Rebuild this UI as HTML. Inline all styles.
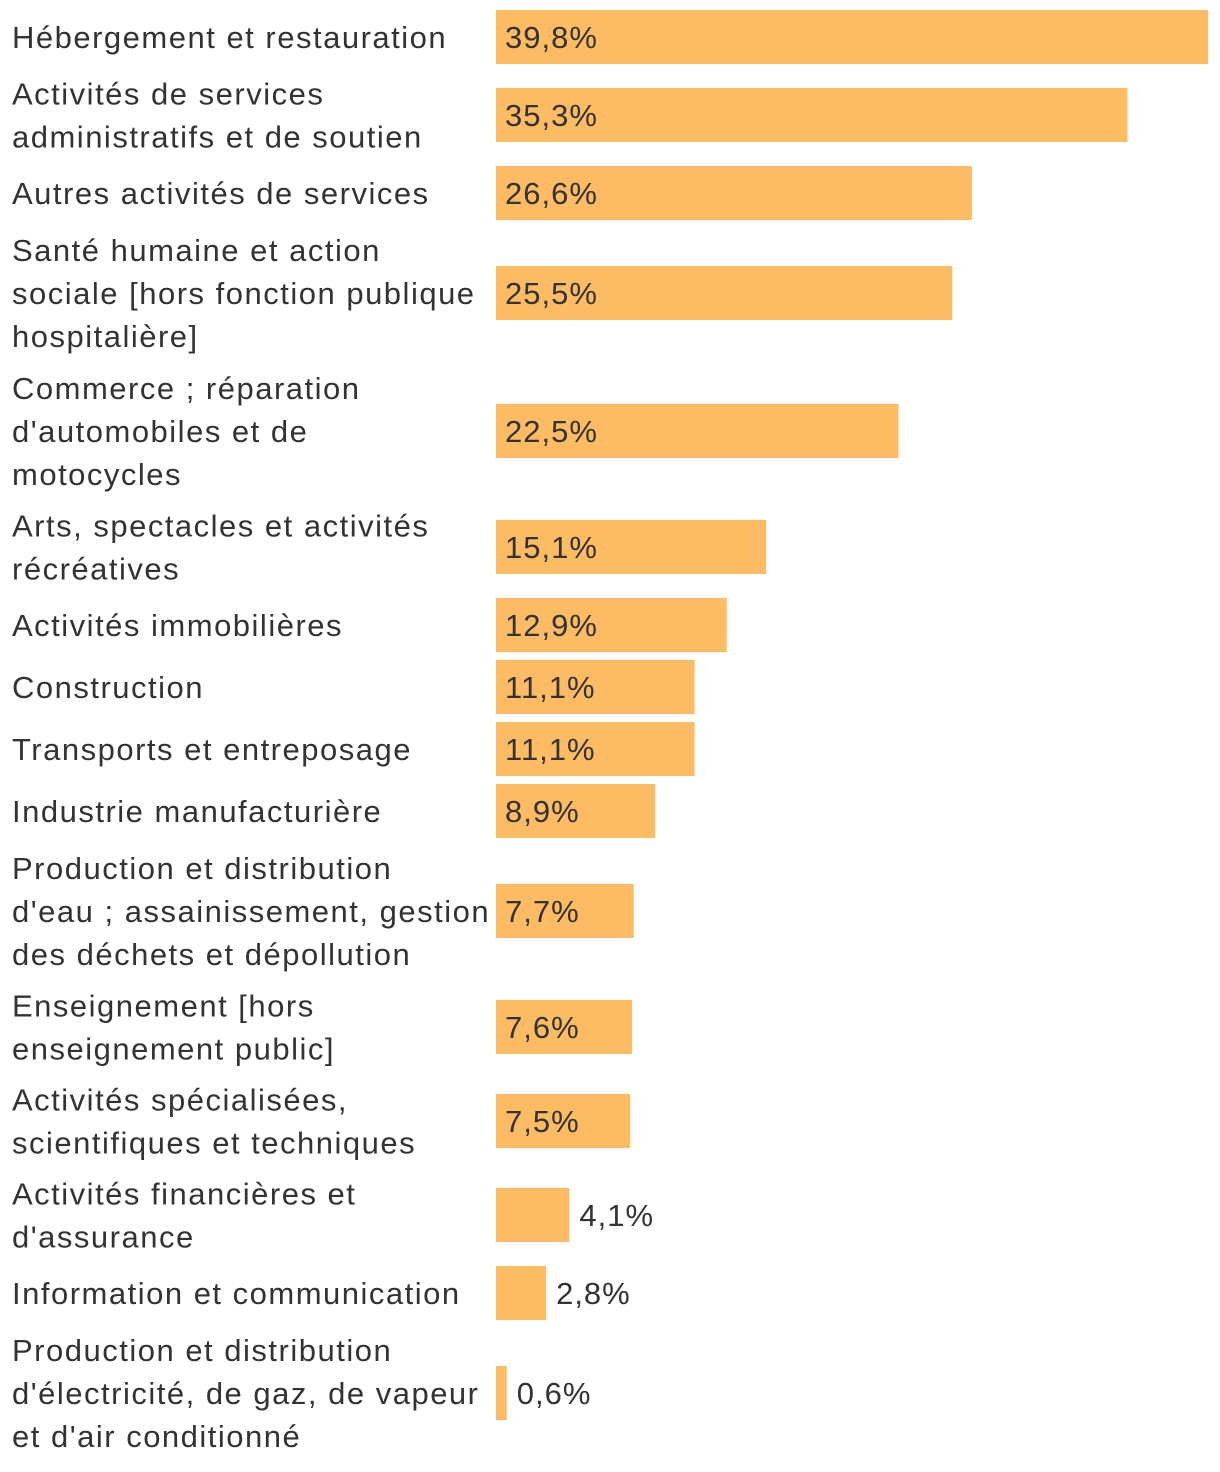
<!DOCTYPE html>
<html><head><meta charset="utf-8"><style>
html,body{margin:0;padding:0;background:#fff;width:1220px;height:1472px;overflow:hidden}
svg text{font-family:"Liberation Sans",sans-serif;fill:#333}
</style></head><body>
<svg id="chart" width="1220" height="1472" xmlns="http://www.w3.org/2000/svg"></svg>
<script>
const categories = [
 ["Hébergement et restauration"],
 ["Activités de services","administratifs et de soutien"],
 ["Autres activités de services"],
 ["Santé humaine et action","sociale [hors fonction publique","hospitalière]"],
 ["Commerce ; réparation","d'automobiles et de","motocycles"],
 ["Arts, spectacles et activités","récréatives"],
 ["Activités immobilières"],
 ["Construction"],
 ["Transports et entreposage"],
 ["Industrie manufacturière"],
 ["Production et distribution","d'eau ; assainissement, gestion","des déchets et dépollution"],
 ["Enseignement [hors","enseignement public]"],
 ["Activités spécialisées,","scientifiques et techniques"],
 ["Activités financières et","d'assurance"],
 ["Information et communication"],
 ["Production et distribution","d'électricité, de gaz, de vapeur","et d'air conditionné"]
];
const values = [39.8,35.3,26.6,25.5,22.5,15.1,12.9,11.1,11.1,8.9,7.7,7.6,7.5,4.1,2.8,0.6];
const valueLabels = ["39,8%","35,3%","26,6%","25,5%","22,5%","15,1%","12,9%","11,1%","11,1%","8,9%","7,7%","7,6%","7,5%","4,1%","2,8%","0,6%"];

(function(){
const svg = document.getElementById('chart');
const NS = 'http://www.w3.org/2000/svg';
const x0 = 496, xMax = 39.8, wMax = 712;
const xScale = v => v / xMax * wMax;
const rowH = n => n === 1 ? 62 : n === 2 ? 94 : 138;
let rowTop = 6;
categories.forEach((lines, i) => {
  const h = rowH(lines.length);
  const cy = rowTop + h / 2;
  const g = document.createElementNS(NS, 'g');
  
  
  const t = document.createElementNS(NS, 'text');
  
  
  t.setAttribute('font-size', '31');
  t.setAttribute('letter-spacing', '1.5');
  const startY = cy - (lines.length - 1) * 43 / 2 + 11;
  lines.forEach((ln, j) => {
    const s = document.createElementNS(NS, 'tspan');
    s.setAttribute('x', 12);
    s.setAttribute('y', startY + j * 43);
    s.textContent = ln;
    t.appendChild(s);
  });
  g.appendChild(t);
  const w = xScale(values[i]);
  const r = document.createElementNS(NS, 'rect');
  
  
  r.setAttribute('x', x0); r.setAttribute('y', cy - 27);
  r.setAttribute('width', w); r.setAttribute('height', 54);
  r.setAttribute('fill', '#fdbb63');
  g.appendChild(r);
  const v = document.createElementNS(NS, 'text');
  
  
  v.setAttribute('font-size', '31');
  v.setAttribute('letter-spacing', '1');
  v.setAttribute('y', cy + 11);
  v.setAttribute('x', w > 100 ? x0 + 9 : x0 + w + 10);
  v.textContent = valueLabels[i];
  g.appendChild(v);
  svg.appendChild(g);
  rowTop += h;
});
})();
</script>
</body></html>
